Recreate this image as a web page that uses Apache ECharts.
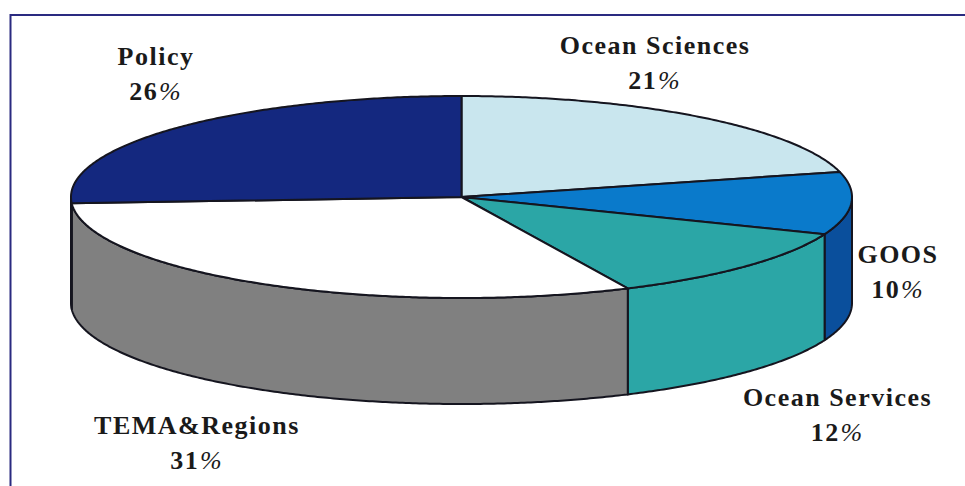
<!DOCTYPE html>
<html>
<head>
<meta charset="utf-8">
<script src="https://cdn.jsdelivr.net/npm/echarts@6/dist/echarts.min.js"></script>
<style>
  html, body { margin: 0; padding: 0; background: #fff; }
  #chart { width: 965px; height: 486px; }
  #chart text { letter-spacing: 1.5px; }
</style>
</head>
<body>
<div id="chart"></div>
<script>
// Budget shares, clockwise from twelve o'clock.
const categories = ['Ocean Sciences', 'GOOS', 'Ocean Services', 'TEMA&Regions', 'Policy'];
const shares = [21, 10, 12, 31, 26];

// Drawing styles for each slice.
const topColors = ['#c9e6ee', '#0a7acb', '#2ba6a6', '#ffffff', '#14287f'];
const sideColors = ['#9fc4d0', '#0a4f9c', '#2ba6a6', '#808080', '#808080'];
const labelCentres = [[655, 62.5], [898, 272], [837.5, 415], [197, 442.5], [156, 73.5]];

// Disc geometry: elliptical top face, extruded downwards.
const disc = { cx: 461.5, cy: 197, rx: 390.5, ry: 101, depth: 106 };
const edge = '#15151f';
const labelFont = '"Liberation Serif", serif';

function rimPoint(deg, drop) {
  const a = deg * Math.PI / 180;
  return [disc.cx + disc.rx * Math.cos(a), disc.cy + drop - disc.ry * Math.sin(a)];
}

function arc(from, to, drop) {
  const pts = [];
  const steps = Math.max(2, Math.ceil(Math.abs(to - from) * 2));
  for (let i = 0; i <= steps; i++) {
    pts.push(rimPoint(from + (to - from) * i / steps, drop));
  }
  return pts;
}

const total = shares.reduce((a, b) => a + b, 0);

function renderSlice(params, api) {
  const i = params.dataIndex;
  const before = shares.slice(0, i).reduce((a, b) => a + b, 0);
  const start = 90 - before / total * 360;
  const end = start - api.value(1) / total * 360;
  const children = [];

  // Only the part of the rim on the near side (below the horizontal) has a wall.
  const wallFrom = Math.min(start, 0);
  const wallTo = Math.max(end, -180);
  if (wallFrom > wallTo) {
    children.push({
      type: 'polygon',
      z2: 1,
      shape: { points: arc(wallFrom, wallTo, 0).concat(arc(wallTo, wallFrom, disc.depth)) },
      style: { fill: sideColors[i], stroke: edge, lineWidth: 2, lineJoin: 'round' }
    });
  }

  children.push({
    type: 'polygon',
    z2: 2,
    shape: { points: [[disc.cx, disc.cy]].concat(arc(start, end, 0)) },
    style: { fill: topColors[i], stroke: edge, lineWidth: 2, lineJoin: 'round' }
  });

  // Name on the first line, share with a light italic percent sign on the second.
  children.push({
    type: 'text',
    z2: 3,
    style: {
      x: labelCentres[i][0],
      y: labelCentres[i][1] - 17.5,
      text: categories[i],
      font: 'bold 26px ' + labelFont,
      fill: '#1a1a1a',
      align: 'center',
      verticalAlign: 'middle'
    }
  });
  children.push({
    type: 'text',
    z2: 3,
    style: {
      x: labelCentres[i][0],
      y: labelCentres[i][1] + 17.5,
      text: '{n|' + api.value(1) + '}{p|%}',
      fill: '#1a1a1a',
      align: 'center',
      verticalAlign: 'middle',
      rich: {
        n: { font: 'bold 26px ' + labelFont, fill: '#1a1a1a' },
        p: { font: 'italic 26px ' + labelFont, fill: '#1a1a1a', padding: [0, 0, 0, 3] }
      }
    }
  });

  return { type: 'group', children };
}

const chart = echarts.init(document.getElementById('chart'), null, { renderer: 'svg' });
chart.setOption({
  animation: false,
  backgroundColor: '#ffffff',
  // Frame rule along the top and left; it runs off the page on the other sides.
  graphic: [{
    type: 'polyline',
    shape: { points: [[10.5, 486], [10.5, 15], [965, 15]] },
    style: { fill: 'none', stroke: '#2a2a80', lineWidth: 2 }
  }],
  series: [{
    type: 'custom',
    coordinateSystem: 'none',
    renderItem: renderSlice,
    data: categories.map((name, i) => ({ name, value: [i, shares[i]] }))
  }]
});
</script>
</body>
</html>
